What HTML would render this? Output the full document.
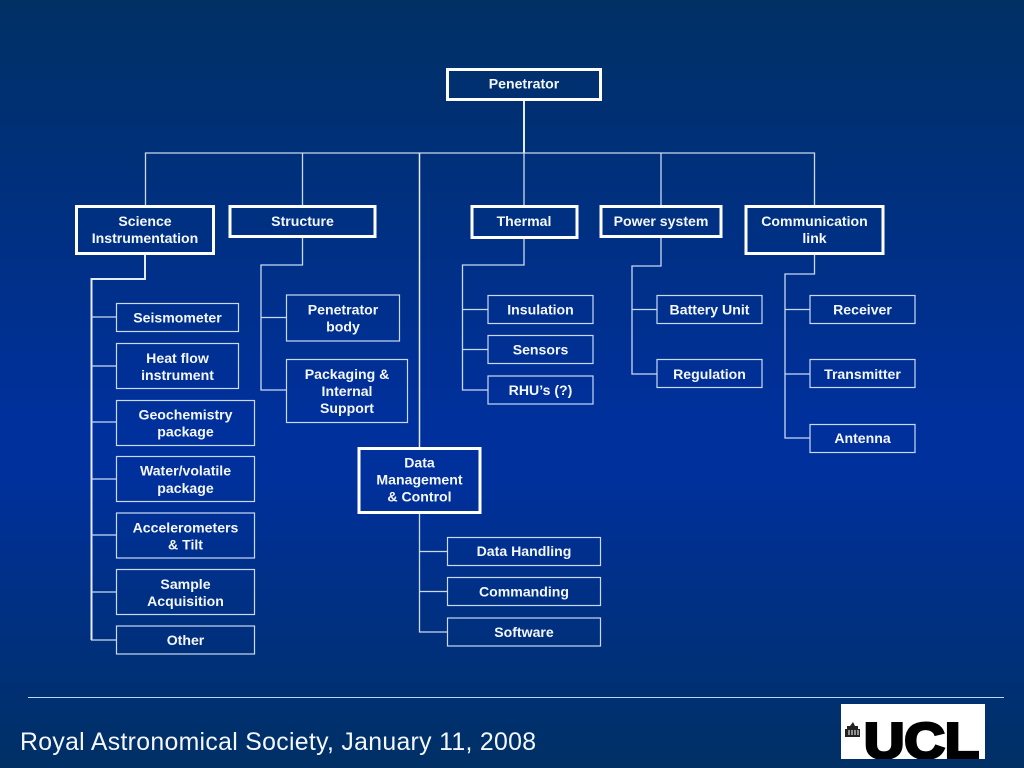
<!DOCTYPE html>
<html>
<head>
<meta charset="utf-8">
<style>
html,body{margin:0;padding:0;width:1024px;height:768px;overflow:hidden}
svg{display:block}
.l{fill:none;stroke:#c9d9f2;stroke-width:1.3}
.t{fill:none;stroke:#e4ecfa;stroke-width:2}
.b{fill:none;stroke:#fff;stroke-width:3}
.s{fill:none;stroke:#c9d9f2;stroke-width:1.2}
text{font-family:"Liberation Sans",sans-serif}
.x{font-size:14.1px;font-weight:bold;fill:#f4f7fc;text-anchor:middle}
</style>
</head>
<body>
<svg width="1024" height="768" viewBox="0 0 1024 768" xmlns="http://www.w3.org/2000/svg">
<defs>
<linearGradient id="g" x1="0" y1="0" x2="0" y2="1">
<stop offset="0" stop-color="#003064"/>
<stop offset="0.55" stop-color="#00309c"/>
<stop offset="0.62" stop-color="#00309c"/>
<stop offset="1" stop-color="#003064"/>
</linearGradient>
<clipPath id="c"><rect x="841" y="704" width="144" height="55"/></clipPath>
</defs>
<rect width="1024" height="768" fill="url(#g)"/>

<!-- top-level connectors -->
<path class="t" d="M524 100V153"/>
<path class="l" d="M145.500 206V153H814.500V206M302.500 153V206M524 153V206M661 153V206"/>
<path class="t" d="M419.500 153V448" style="stroke-width:1.5"/>

<!-- branch connectors -->
<path class="t" d="M145 254V279H91.500V640"/>
<path class="l" d="M91 317H117M91 366H117M91 422H117M91 479H117M91 535H117M91 592H117M91 640H117"/>
<path class="l" d="M302.500 237V265H261V390H286M261 317.500H286"/>
<path class="l" d="M524 238V265H462.500V390H488M462 309.500H488M462 349.500H488"/>
<path class="l" d="M661 237V266H632V374H657M632 309.500H657"/>
<path class="l" d="M814.500 254V274H785V438H810M785 309.500H810M785 374H810"/>
<path class="l" d="M419.500 513V632H447M419.500 551.500H447M419.500 591.500H447"/>

<!-- main boxes -->
<rect class="b" x="447.500" y="69.500" width="153" height="30"/>
<rect class="b" x="76.500" y="206.500" width="137" height="47"/>
<rect class="b" x="230" y="206.500" width="145" height="30"/>
<rect class="b" x="472" y="206.500" width="105" height="31"/>
<rect class="b" x="601" y="206.500" width="120" height="30"/>
<rect class="b" x="746" y="206.500" width="137" height="47"/>
<rect class="b" x="359" y="448.500" width="121" height="64"/>

<!-- small boxes -->
<rect class="s" x="116.500" y="303.500" width="122" height="28"/>
<rect class="s" x="116.500" y="343.500" width="122" height="45"/>
<rect class="s" x="116.500" y="400.500" width="138" height="45"/>
<rect class="s" x="116.500" y="456.500" width="138" height="45"/>
<rect class="s" x="116.500" y="513" width="138" height="45"/>
<rect class="s" x="116.500" y="569.500" width="138" height="45"/>
<rect class="s" x="116.500" y="626" width="138" height="28"/>
<rect class="s" x="286.500" y="295" width="113" height="46"/>
<rect class="s" x="286.500" y="359.500" width="121" height="63"/>
<rect class="s" x="488" y="295.500" width="105" height="28"/>
<rect class="s" x="488" y="335.500" width="105" height="28"/>
<rect class="s" x="488" y="376" width="105" height="28"/>
<rect class="s" x="657" y="295.500" width="105" height="28"/>
<rect class="s" x="657" y="359.500" width="105" height="28"/>
<rect class="s" x="810" y="295.500" width="105" height="28"/>
<rect class="s" x="810" y="359.500" width="105" height="28"/>
<rect class="s" x="810" y="424.500" width="105" height="28"/>
<rect class="s" x="447.500" y="537.500" width="153" height="28"/>
<rect class="s" x="447.500" y="577.500" width="153" height="28"/>
<rect class="s" x="447.500" y="618" width="153" height="28"/>

<!-- labels -->
<text class="x" x="524" y="88.500">Penetrator</text>
<text class="x" x="145" y="226">Science</text>
<text class="x" x="145" y="243">Instrumentation</text>
<text class="x" x="302.500" y="226">Structure</text>
<text class="x" x="524" y="226">Thermal</text>
<text class="x" x="661" y="226">Power system</text>
<text class="x" x="814.500" y="226">Communication</text>
<text class="x" x="814.500" y="243">link</text>

<text class="x" x="177.500" y="322.500">Seismometer</text>
<text class="x" x="177.500" y="363">Heat flow</text>
<text class="x" x="177.500" y="380">instrument</text>
<text class="x" x="185.500" y="419.500">Geochemistry</text>
<text class="x" x="185.500" y="436.500">package</text>
<text class="x" x="185.500" y="475.500">Water/volatile</text>
<text class="x" x="185.500" y="493">package</text>
<text class="x" x="185.500" y="532.500">Accelerometers</text>
<text class="x" x="185.500" y="549.500">&amp; Tilt</text>
<text class="x" x="185.500" y="589">Sample</text>
<text class="x" x="185.500" y="606">Acquisition</text>
<text class="x" x="185.500" y="645">Other</text>

<text class="x" x="343" y="314.500">Penetrator</text>
<text class="x" x="343" y="331.500">body</text>
<text class="x" x="347" y="379">Packaging &amp;</text>
<text class="x" x="347" y="396">Internal</text>
<text class="x" x="347" y="413">Support</text>

<text class="x" x="540.500" y="314.500">Insulation</text>
<text class="x" x="540.500" y="354.500">Sensors</text>
<text class="x" x="540.500" y="395">RHU’s (?)</text>

<text class="x" x="709.500" y="314.500">Battery Unit</text>
<text class="x" x="709.500" y="379">Regulation</text>

<text class="x" x="862.500" y="314.500">Receiver</text>
<text class="x" x="862.500" y="379">Transmitter</text>
<text class="x" x="862.500" y="443">Antenna</text>

<text class="x" x="419.500" y="467.500">Data</text>
<text class="x" x="419.500" y="484.500">Management</text>
<text class="x" x="419.500" y="501.500">&amp; Control</text>

<text class="x" x="524" y="556">Data Handling</text>
<text class="x" x="524" y="596.500">Commanding</text>
<text class="x" x="524" y="637">Software</text>

<!-- footer -->
<path d="M28 697.500H1004" stroke="#bcd8f4" stroke-width="1"/>
<text x="20" y="750" font-size="24.8" fill="#f4f7fc" textLength="516" lengthAdjust="spacing">Royal Astronomical Society, January 11, 2008</text>

<!-- logo -->
<rect x="841" y="704" width="144" height="55" fill="#fff"/>
<g clip-path="url(#c)">
<text x="864" y="758" font-size="50" font-weight="bold" fill="#000" stroke="#000" stroke-width="3" textLength="115" lengthAdjust="spacingAndGlyphs">UCL</text>
</g>
<path d="M853 722l2 4h3v3h2v8h-15v-8h2v-3h3z" fill="#222"/>
<path d="M849 730v5M852 730v5M855 730v5M858 730v5" stroke="#fff" stroke-width="1"/>
</svg>
</body>
</html>
